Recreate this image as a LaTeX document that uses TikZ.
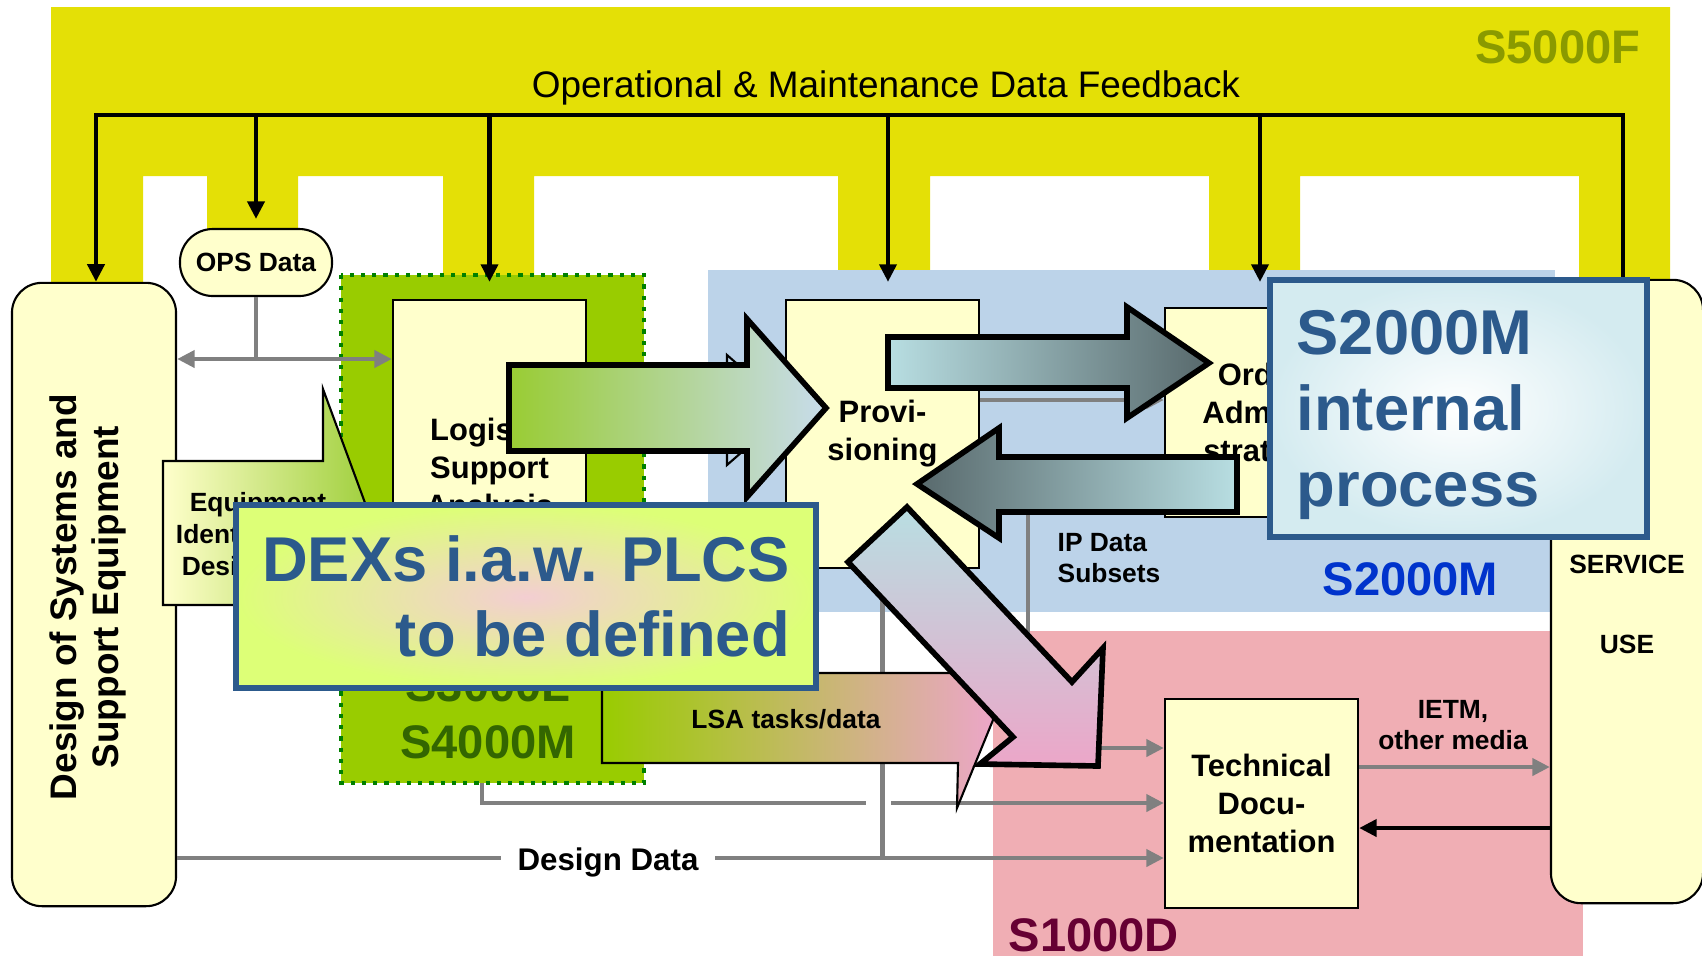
\documentclass[tikz,border=0pt]{standalone}
\usepackage{fontspec}
\setmainfont{Liberation Sans}
\usepackage{tikz}
\usetikzlibrary{arrows.meta}

\definecolor{feedyellow}{RGB}{228,224,6}
\definecolor{feedolive}{RGB}{138,154,0}
\definecolor{ipblue}{RGB}{188,211,233}
\definecolor{ipbluetext}{RGB}{0,51,204}
\definecolor{docpink}{RGB}{240,174,180}
\definecolor{docmaroon}{RGB}{102,0,51}
\definecolor{lsagreen}{RGB}{153,204,0}
\definecolor{lsadark}{RGB}{51,102,0}
\definecolor{dotgreen}{RGB}{0,128,0}
\definecolor{boxyellow}{RGB}{255,255,204}
\definecolor{linegrey}{RGB}{128,128,128}
\definecolor{dexblue}{RGB}{44,90,140}
\definecolor{dexlime}{RGB}{221,255,119}
\definecolor{dexpink}{RGB}{243,206,210}
\definecolor{intcyan}{RGB}{212,235,240}
\definecolor{arrowgreen}{RGB}{153,204,51}
\definecolor{arrowblue}{RGB}{200,220,236}
\definecolor{tealight}{RGB}{184,222,226}
\definecolor{tealdark}{RGB}{88,105,108}
\definecolor{arrowpink}{RGB}{236,166,200}

\newcommand{\boxfont}{\fontsize{8.8}{10.8}\selectfont\bfseries}
\newcommand{\smallfont}{\fontsize{7.5}{8.8}\selectfont\bfseries}
\newcommand{\specfont}{\fontsize{13.4}{16.2}\selectfont\bfseries}
\newcommand{\bigfont}{\fontsize{18}{21.5}\selectfont\bfseries}

\tikzset{
	>={Triangle[length=5pt,width=4.8pt]},
	box/.style={draw=black, fill=boxyellow, line width=0.6pt, inner sep=0pt, align=center, font=\boxfont},
	lbl/.style={inner sep=0pt, align=center},
	feedline/.style={draw=black, line width=1.2pt},
	greyline/.style={draw=linegrey, line width=1.4pt},
	blackline/.style={draw=black, line width=1.4pt},
	lsaborder/.style={draw=dotgreen, line width=1.2pt, dotted},
	fatarrow/.style={draw=black, line width=1.6pt, line join=miter},
	callout/.style={draw=black, line width=0.6pt},
	stamp/.style={draw=dexblue, line width=1.8pt, font=\bigfont, text=dexblue, inner sep=0pt}
}

\begin{document}
\begin{tikzpicture}[x=0.01cm, y=-0.01cm]
		%%%%% START %%%%%
		\useasboundingbox (0,0) rectangle (1702,956);
		
		% S5000F band with its legs
		\fill[feedyellow] (51,7) rectangle (1670,176)
			(51,170) rectangle (143,286) (207,170) rectangle (298,231)
			(443,170) rectangle (534,276) (838,170) rectangle (930,271)
			(1209,170) rectangle (1300,271) (1579,170) rectangle (1670,282);
		
		\fill[ipblue] (708,270) rectangle (1555,612);
		\fill[docpink] (993,631) rectangle (1583,956);
		\draw[lsaborder, fill=lsagreen] (341,275) rectangle (644,783);
		
		\node[lbl, anchor=base east, font=\specfont, text=feedolive] (s5000) at (1641,63) {S5000F};
		\node[lbl, anchor=base west, font=\specfont, text=ipbluetext] (s2000) at (1322,595) {S2000M};
		\node[lbl, anchor=base west, font=\specfont, text=docmaroon] (s1000) at (1008,951) {S1000D};
		\node[lbl, font=\specfont, text=lsadark] (s3000) at (488,714) {S3000L\\S4000M};
		\node[lbl, anchor=base, font=\fontsize{10.5}{12}\selectfont] (feedback) at (886,97) {Operational \& Maintenance Data Feedback};
		
		% process boxes
		\node[box, rounded corners=0.3cm, minimum width=1.64cm, minimum height=6.23cm] (design) at (94,594.5) {};
		\node[lbl, rotate=90, font=\fontsize{10.5}{12}\selectfont\bfseries] (designtext) at (88,597) {Design of Systems and\\Support Equipment};
		\node[box, rounded corners=0.33cm, minimum width=1.52cm, minimum height=0.67cm, font=\smallfont] (ops) at (256,262.5) {OPS Data};
		\node[box, minimum width=1.93cm, minimum height=3.4cm] (lsa) at (489.5,470) {Logistic\\Support\\Analysis};
		\node[box, minimum width=1.93cm, minimum height=2.68cm] (prov) at (882.5,434) {Provi-\\sioning};
		\node[box, minimum width=1.90cm, minimum height=2.09cm] (order) at (1260,412.5) {Order\\Admini-\\stration};
		\node[box, minimum width=1.93cm, minimum height=2.09cm] (tdoc) at (1261.5,803.5) {Technical\\Docu-\\mentation};
		\node[box, rounded corners=0.3cm, minimum width=1.52cm, minimum height=6.23cm] (service) at (1627,591.5) {};
		\node[lbl, font=\fontsize{7.5}{22.8}\selectfont\bfseries] (servicetext) at (1627,604) {SERVICE\\USE};
		
		% feedback bus
		\coordinate (fbL) at (96,115);
		\coordinate (fbR) at (1623,115);
		\draw[feedline, ->] (fbR |- service.north) -- (fbR) -- (fbL) -- (fbL |- design.north);
		\draw[feedline, ->, shorten >=0.09cm] (ops.north |- fbL) -- (ops.north);
		\draw[feedline, ->, shorten >=0.17cm] (lsa.north |- fbL) -- (lsa.north);
		\draw[feedline, ->, shorten >=0.17cm] ([xshift=0.055cm]prov.north |- fbL) -- ([xshift=0.055cm]prov.north);
		\draw[feedline, ->, shorten >=0.25cm] (order.north |- fbL) -- (order.north);
		
		% data flows
		\coordinate (opsrail) at (0,359);
		\coordinate (provrail) at (0,400);
		\coordinate (iprail) at (0,748);
		\coordinate (ietmrail) at (0,767);
		\coordinate (lsarail) at (0,803);
		\coordinate (backrail) at (0,828);
		\coordinate (ddrail) at (0,858);
		\coordinate (ipstart) at (1028,480);
		\coordinate (lsaout) at (482,783);
		\coordinate (hopL) at (866,803);
		\coordinate (hopR) at (891,803);
		
		\draw[greyline] (ops.south) -- (ops.south |- opsrail);
		\draw[greyline, <->] (design.east |- opsrail) -- (lsa.west |- opsrail);
		\draw[greyline, ->] (prov.east |- provrail) -- (order.west |- provrail);
		\draw[greyline, ->] (ipstart) |- (tdoc.west |- iprail);
		\draw[greyline] (lsaout) |- (hopL);
		\draw[greyline, ->] (hopR) -- (tdoc.west |- lsarail);
		\draw[greyline] (prov.south) -- (prov.south |- ddrail);
		\draw[greyline, ->] (design.east |- ddrail) -- (tdoc.west |- ddrail);
		\node[lbl, fill=white, inner xsep=0.17cm, font=\fontsize{8.9}{10}\selectfont\bfseries] (ddlabel) at (608,862) {Design Data};
		\draw[greyline, ->] (tdoc.east |- ietmrail) -- (service.west |- ietmrail);
		\draw[blackline, ->] (service.west |- backrail) -- (tdoc.east |- backrail);
		
		\node[lbl, anchor=west, align=left, font=\smallfont] (iptext) at (1057,558) {IP Data\\Subsets};
		\node[lbl, font=\smallfont] (ietm) at (1453,725) {IETM,\\other media};
		
		% callouts
		\draw[callout, left color=boxyellow, right color=arrowgreen] (163,461) -- (323,461) -- (323,389) -- (385,557) -- (385,605) -- (163,605) -- cycle;
		\node[lbl, font=\fontsize{7.5}{9.1}\selectfont\bfseries] (eqtext) at (258,537) {Equipment\\Identification\\Design Data};
		\draw[callout, left color=lsagreen, right color=arrowpink] (602,673) -- (993,673) -- (993,720) -- (957,808) -- (958,763) -- (602,763) -- cycle;
		\node[lbl, anchor=base, font=\smallfont] (lsatasks) at (786,728) {LSA tasks/data};
		
		% block arrows
		\draw[line width=0.6pt, fill=ipblue] (727,355) -- (790,410) -- (727,465) -- cycle;
		\draw[fatarrow, left color=arrowgreen, right color=arrowblue] (509,365) -- (747,365) -- (747,319) -- (826,408) -- (747,497) -- (747,451) -- (509,451) -- cycle;
		\draw[fatarrow, left color=tealight, right color=tealdark] (888,337) -- (1127,337) -- (1127,307) -- (1209,363) -- (1127,418) -- (1127,388) -- (888,388) -- cycle;
		\draw[fatarrow, left color=tealdark, right color=tealight] (1237,457) -- (999,457) -- (999,428) -- (917,484) -- (999,538) -- (999,512) -- (1237,512) -- cycle;
		\draw[fatarrow, top color=tealight, bottom color=arrowpink] (907,507) -- (1072,682) -- (1103,648) -- (1098,766) -- (980,764) -- (1013,737) -- (848,562) -- cycle;
		
		% overlay notes
		\node[stamp, inner color=dexpink, outer color=dexlime, minimum width=5.8cm, minimum height=1.83cm, align=right] (dexs) at (526,596.5) {DEXs i.a.w. PLCS\\to be defined};
		\node[stamp, inner color=white, outer color=intcyan, minimum width=3.77cm, minimum height=2.57cm] (internal) at (1458.5,408.5) {};
		\node[lbl, anchor=west, align=left, font=\bigfont, text=dexblue] (internaltext) at (1296,415) {S2000M\\internal\\process};
		
		%%%%% END %%%%%
\end{tikzpicture}
\end{document}
